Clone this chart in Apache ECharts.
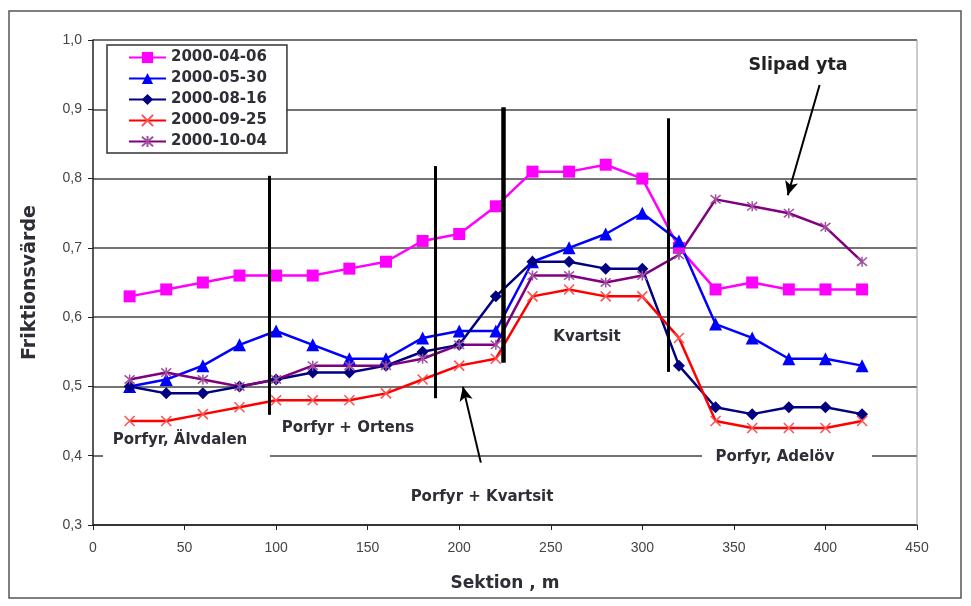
<!DOCTYPE html>
<html><head><meta charset="utf-8">
<script src="https://cdn.jsdelivr.net/npm/echarts@6/dist/echarts.min.js"></script>
<style>html,body{margin:0;padding:0;background:#fff}#c{width:971px;height:606px}</style>
</head><body><div id="c"></div>
<script>
const sections = [20,40,60,80,100,120,140,160,180,200,220,240,260,280,300,320,340,360,380,400,420];
const d20000406 = [0.63,0.64,0.65,0.66,0.66,0.66,0.67,0.68,0.71,0.72,0.76,0.81,0.81,0.82,0.80,0.70,0.64,0.65,0.64,0.64,0.64];
const d20000530 = [0.50,0.51,0.53,0.56,0.58,0.56,0.54,0.54,0.57,0.58,0.58,0.68,0.70,0.72,0.75,0.71,0.59,0.57,0.54,0.54,0.53];
const d20000816 = [0.50,0.49,0.49,0.50,0.51,0.52,0.52,0.53,0.55,0.56,0.63,0.68,0.68,0.67,0.67,0.53,0.47,0.46,0.47,0.47,0.46];
const d20000925 = [0.45,0.45,0.46,0.47,0.48,0.48,0.48,0.49,0.51,0.53,0.54,0.63,0.64,0.63,0.63,0.57,0.45,0.44,0.44,0.44,0.45];
const d20001004 = [0.51,0.52,0.51,0.50,0.51,0.53,0.53,0.53,0.54,0.56,0.56,0.66,0.66,0.65,0.66,0.69,0.77,0.76,0.75,0.73,0.68];
const seriesNames = ['2000-04-06','2000-05-30','2000-08-16','2000-09-25','2000-10-04'];
const xTicks = [0,50,100,150,200,250,300,350,400,450];
const yTicks = [0.3,0.4,0.5,0.6,0.7,0.8,0.9,1.0];
// zone boundaries (section, top value, bottom value)
const dividers = [[96.1,0.804,0.459],[186.8,0.818,0.483],[223.9,0.903,0.534],[314.0,0.887,0.521]];
// arrows: [fromX, fromY, toX, toY]
const arrows = [[396.8,0.935,379.4,0.776],[211.8,0.390,202.0,0.4995]];

const pair = arr => sections.map((x,i)=>[x,arr[i]]);
const XPATH = 'path://M0,0L10,10M10,0L0,10';
const STARPATH = 'path://M0,0L10,10M10,0L0,10M5,-1L5,11';
const FONT = 'DejaVu Sans';
const TXT = '#2e2e36';

const chart = echarts.init(document.getElementById('c'));
const mk = (name, data, color, symbol, size, extra) => Object.assign({
  name, type:'line', data: pair(data), symbol, symbolSize:size,
  lineStyle:{color, width:2.5},
  itemStyle:{color, borderColor:color, borderWidth:0},
  emphasis:{disabled:true}, animation:false
}, extra||{});

const series = [
  mk(seriesNames[0], d20000406, '#ff00ff', 'rect', 12),
  mk(seriesNames[1], d20000530, '#0000ff', 'triangle', 13),
  mk(seriesNames[2], d20000816, '#000080', 'diamond', 12),
  mk(seriesNames[3], d20000925, '#ff0000', XPATH, 10, {itemStyle:{color:'#ff3030',borderColor:'#ff5050',borderWidth:1.5}}),
  mk(seriesNames[4], d20001004, '#800080', STARPATH, 10, {itemStyle:{color:'#a040a0',borderColor:'#a050a0',borderWidth:1.5}})
];
series.push({
  type:'line', data:[], silent:true, animation:false,
  markLine:{
    silent:true, animation:false, symbol:['none','none'], label:{show:false},
    data: dividers.map((d,i)=>[{coord:[d[0],d[1]], lineStyle:{color:'#000', width: i===2?4.5:3, type:'solid'}},{coord:[d[0],d[2]]}])
      .concat(arrows.map(a=>[{coord:[a[0],a[1]], symbol:'none', lineStyle:{color:'#000', width:2, type:'solid'}},{coord:[a[2],a[3]], symbol:'arrow', symbolSize:[10,14]}]))
  }
});

chart.setOption({
  animation:false,
  grid:{left:93, right:54, top:40, bottom:81, show:false},
  legend:{
    data: seriesNames, orient:'vertical', left:107, top:45,
    itemWidth:37, itemHeight:14, itemGap:6, padding:[5,20,4,21],
    borderColor:'#333', borderWidth:1.5, backgroundColor:'#fff',
    textStyle:{fontFamily:FONT, fontWeight:'bold', fontSize:15, color:TXT}, selectedMode:false
  },
  xAxis:{
    type:'value', min:0, max:450, interval:50,
    axisLine:{lineStyle:{color:'#222', width:1.5}},
    axisTick:{length:5, lineStyle:{color:'#222'}},
    axisLabel:{fontFamily:'Liberation Sans', fontSize:14, color:'#444', margin:16},
    splitLine:{show:false},
    name:'Sektion , m', nameLocation:'middle', nameGap:50,
    nameTextStyle:{fontFamily:FONT, fontWeight:'bold', fontSize:17, color:TXT}
  },
  yAxis:{
    type:'value', min:0.3, max:1.0, interval:0.1,
    axisLine:{show:true, lineStyle:{color:'#222', width:1.5}},
    axisTick:{show:true, length:5, lineStyle:{color:'#222'}},
    axisLabel:{fontFamily:'Liberation Sans', fontSize:14, color:'#444', margin:11,
      formatter:v=>v.toFixed(1).replace('.',',')},
    splitLine:{lineStyle:{color:'#444', width:1.5}},
    name:'Friktionsvärde', nameLocation:'middle', nameGap:53, nameRotate:90,
    nameTextStyle:{fontFamily:FONT, fontWeight:'bold', fontSize:19, color:TXT}
  },
  graphic:[
    {type:'rect', shape:{x:9,y:11,width:952,height:587}, style:{fill:'none', stroke:'#555', lineWidth:1.5}, z:0, silent:true},
    {type:'line', shape:{x1:917,y1:40,x2:917,y2:525}, style:{stroke:'#999', lineWidth:1}, z:1, silent:true},
    {type:'rect', shape:{x:103,y:430,width:167,height:32}, style:{fill:'#fff'}, z:10, silent:true},
    {type:'rect', shape:{x:702,y:443,width:170,height:28}, style:{fill:'#fff'}, z:10, silent:true},
    {type:'text', x:798, y:65, style:{text:'Slipad yta', font:'bold 17.5px "DejaVu Sans"', fill:'#222', textAlign:'center', textVerticalAlign:'middle'}, z:11},
    {type:'text', x:587, y:337, style:{text:'Kvartsit', font:'bold 15px "DejaVu Sans"', fill:TXT, textAlign:'center', textVerticalAlign:'middle'}, z:11},
    {type:'text', x:180, y:440, style:{text:'Porfyr, Älvdalen', font:'bold 15px "DejaVu Sans"', fill:TXT, textAlign:'center', textVerticalAlign:'middle'}, z:11},
    {type:'text', x:348, y:428, style:{text:'Porfyr + Ortens', font:'bold 15px "DejaVu Sans"', fill:TXT, textAlign:'center', textVerticalAlign:'middle'}, z:11},
    {type:'text', x:482, y:497, style:{text:'Porfyr + Kvartsit', font:'bold 15px "DejaVu Sans"', fill:TXT, textAlign:'center', textVerticalAlign:'middle'}, z:11},
    {type:'text', x:775, y:457, style:{text:'Porfyr, Adelöv', font:'bold 15px "DejaVu Sans"', fill:TXT, textAlign:'center', textVerticalAlign:'middle'}, z:11}
  ],
  series
});
</script></body></html>
